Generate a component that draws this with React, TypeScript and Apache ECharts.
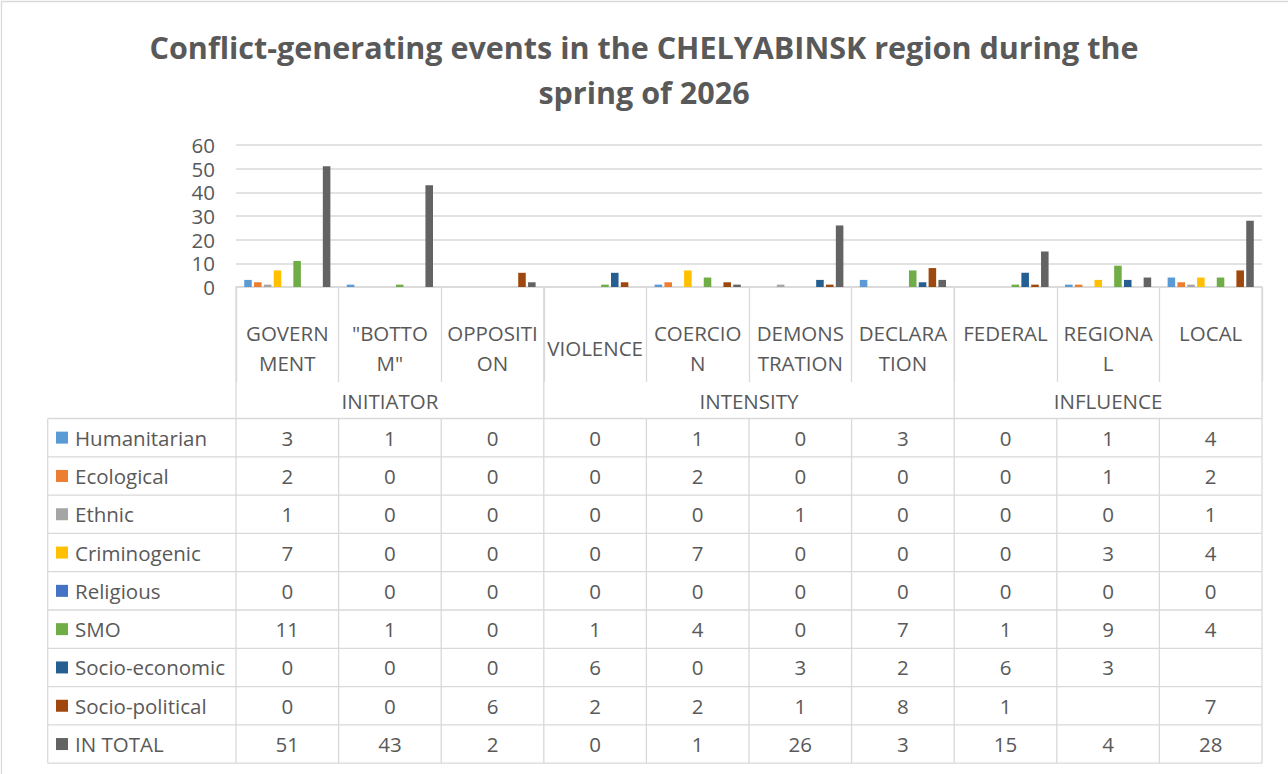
import React, { useEffect, useRef } from "react";
import * as echarts from "echarts";

// ---------- data ----------
const categories = ["GOVERNMENT", "\"BOTTOM\"", "OPPOSITION", "VIOLENCE", "COERCION", "DEMONSTRATION", "DECLARATION", "FEDERAL", "REGIONAL", "LOCAL"];
const categoryLabels = ["GOVERN\nMENT", "\"BOTTO\nM\"", "OPPOSITI\nON", "VIOLENCE", "COERCIO\nN", "DEMONS\nTRATION", "DECLARA\nTION", "FEDERAL\n ", "REGIONA\nL", "LOCAL\n "];
const groupNames = ["INITIATOR", "INTENSITY", "INFLUENCE"];
const groupSizes = [3, 4, 3];

const seriesNames = ["Humanitarian", "Ecological", "Ethnic", "Criminogenic", "Religious", "SMO", "Socio-economic", "Socio-political", "IN TOTAL"];
const seriesColors = ["#5B9BD5", "#ED7D31", "#A5A5A5", "#FFC000", "#4472C4", "#70AD47", "#255E91", "#9E480E", "#636363"];

const humanitarian = [3, 1, 0, 0, 1, 0, 3, 0, 1, 4];
const ecological = [2, 0, 0, 0, 2, 0, 0, 0, 1, 2];
const ethnic = [1, 0, 0, 0, 0, 1, 0, 0, 0, 1];
const criminogenic = [7, 0, 0, 0, 7, 0, 0, 0, 3, 4];
const religious = [0, 0, 0, 0, 0, 0, 0, 0, 0, 0];
const smo = [11, 1, 0, 1, 4, 0, 7, 1, 9, 4];
const socioEconomic = [0, 0, 0, 6, 0, 3, 2, 6, 3, null];
const socioPolitical = [0, 0, 6, 2, 2, 1, 8, 1, null, 7];
const inTotal = [51, 43, 2, 0, 1, 26, 3, 15, 4, 28];

const seriesData = [humanitarian, ecological, ethnic, criminogenic, religious, smo, socioEconomic, socioPolitical, inTotal];

const yMin = 0;
const yMax = 60;
const yInterval = 10;

const titleText = "Conflict-generating events in the CHELYABINSK region during the\nspring of 2026";

// ---------- layout ----------
const W = 1288;
const H = 774;
const GRID_L = 236;
const GRID_R = 1262;
const GRID_T = 145;
const GRID_B = 287;
const LABEL_B = 382;
const TABLE_L = 47.7;
const TABLE_T = 418.5;
const ROW_H = 38.3;
const FONT = "'Open Sans', sans-serif";
const TEXT = "#595959";
const LINE = "#d9d9d9";
const FS = 20.5;

function buildGraphic() {
  const g: any[] = [];
  const n = categories.length;
  const colW = (GRID_R - GRID_L) / n;
  const nRows = seriesNames.length;
  const tableB = TABLE_T + nRows * ROW_H;
  const ln = (x1: number, y1: number, x2: number, y2: number) => ({
    type: "line",
    silent: true,
    shape: { x1, y1, x2, y2 },
    style: { stroke: LINE, lineWidth: 1.3 },
  });
  // outer border
  g.push({ type: "rect", silent: true, shape: { x: 1.5, y: 1.5, width: W + 20, height: H + 20 }, style: { fill: "none", stroke: LINE, lineWidth: 1.3 } });
  // horizontal table lines
  for (let r = 0; r <= nRows; r++) {
    const y = TABLE_T + r * ROW_H;
    g.push(ln(TABLE_L, y, GRID_R, y));
  }
  // vertical table lines
  g.push(ln(TABLE_L, TABLE_T, TABLE_L, tableB));
  for (let c = 0; c <= n; c++) {
    const x = GRID_L + c * colW;
    g.push(ln(x, TABLE_T, x, tableB));
  }
  // group boundaries + labels
  let acc = 0;
  g.push(ln(GRID_L, GRID_B, GRID_L, TABLE_T));
  groupNames.forEach((name, gi) => {
    const x0 = GRID_L + acc * colW;
    acc += groupSizes[gi];
    const x1 = GRID_L + acc * colW;
    g.push(ln(x1, GRID_B, x1, TABLE_T));
    g.push({
      type: "text",
      silent: true,
      x: (x0 + x1) / 2,
      y: (LABEL_B + TABLE_T) / 2 + 0.5,
      style: { text: name, fill: TEXT, fontSize: FS, fontFamily: FONT, textAlign: "center", textVerticalAlign: "middle", align: "center", verticalAlign: "middle" },
    });
  });
  // rows
  seriesNames.forEach((name, i) => {
    const yc = TABLE_T + (i + 0.5) * ROW_H;
    g.push({ type: "rect", silent: true, shape: { x: 56, y: yc - 6, width: 12, height: 12 }, style: { fill: seriesColors[i] } });
    g.push({
      type: "text",
      silent: true,
      x: 75,
      y: yc,
      style: { text: name, fill: TEXT, fontSize: FS, fontFamily: FONT, textAlign: "left", textVerticalAlign: "middle", align: "left", verticalAlign: "middle" },
    });
    seriesData[i].forEach((v, c) => {
      if (v === null || v === undefined) return;
      g.push({
        type: "text",
        silent: true,
        x: GRID_L + (c + 0.5) * colW,
        y: yc,
        style: { text: String(v), fill: TEXT, fontSize: FS, fontFamily: FONT, textAlign: "center", textVerticalAlign: "middle", align: "center", verticalAlign: "middle" },
      });
    });
  });
  return g;
}

export default function App() {
  const ref = useRef<HTMLDivElement>(null);
  useEffect(() => {
    if (!ref.current) return;
    const chart = echarts.init(ref.current, undefined, { renderer: "svg" });
    chart.setOption({
      animation: false,
      backgroundColor: "#ffffff",
      title: {
        text: titleText,
        left: "center",
        top: 19.5,
        textStyle: { fontSize: 30.5, fontWeight: "bold", color: TEXT, fontFamily: FONT, lineHeight: 45 },
      },
      grid: { left: GRID_L, right: W - GRID_R, top: GRID_T, bottom: H - GRID_B, containLabel: false },
      xAxis: {
        type: "category",
        data: categories,
        axisLine: { show: true, lineStyle: { color: LINE, width: 1.5 } },
        axisTick: { show: true, interval: 0, length: LABEL_B - GRID_B, lineStyle: { color: LINE, width: 1.3 } },
        axisLabel: {
          show: true,
          interval: 0,
          formatter: (_v: string, i: number) => categoryLabels[i],
          color: TEXT,
          fontSize: FS,
          fontFamily: FONT,
          lineHeight: 30,
          verticalAlign: "middle",
          margin: 61,
        },
      },
      yAxis: {
        type: "value",
        min: yMin,
        max: yMax,
        interval: yInterval,
        axisLine: { show: false },
        axisTick: { show: false },
        axisLabel: { color: TEXT, fontSize: FS, fontFamily: FONT, margin: 21, lineHeight: 20 },
        splitLine: { lineStyle: { color: LINE, width: 1.5 } },
      },
      series: seriesNames.map((name, i) => ({
        name,
        type: "bar",
        data: seriesData[i],
        barGap: "30%",
        barCategoryGap: "16%",
        itemStyle: { color: seriesColors[i] },
      })),
      graphic: buildGraphic(),
    });
    return () => chart.dispose();
  }, []);
  return <div ref={ref} style={{ position: "fixed", left: 0, top: 0, width: W, height: H }} />;
}
